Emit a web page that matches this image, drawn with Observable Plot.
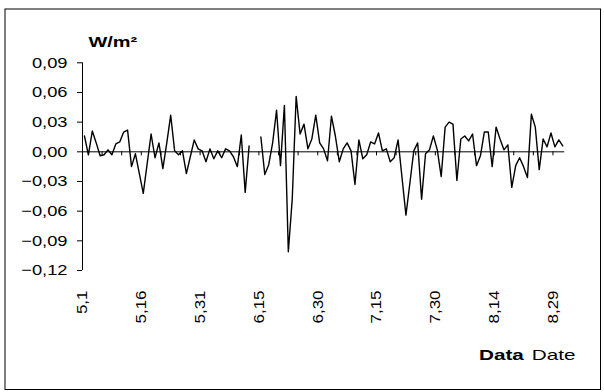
<!DOCTYPE html>
<html><head><meta charset="utf-8">
<script src="https://cdn.jsdelivr.net/npm/d3@7"></script>
<script src="https://cdn.jsdelivr.net/npm/@observablehq/plot@0.6"></script>
<style>
body{margin:0;background:#fff;}
#chart svg{display:block;}
</style></head><body><div id="chart"></div>
<script>
// Daily values, 1 May – 31 Aug (null = missing day)
const values = [
  0.016,-0.003,0.021,0.009,-0.004,-0.003,0.002,-0.003,0.008,0.010,
  0.020,0.022,-0.015,-0.002,-0.022,-0.042,-0.012,0.018,-0.006,0.009,
  -0.017,0.009,0.037,0.001,-0.003,0.001,-0.022,-0.005,0.012,0.003,
  0.001,-0.010,0.003,-0.007,0.001,-0.006,0.003,0.001,-0.005,-0.015,
  0.017,-0.041,0.006,null,null,0.015,-0.023,-0.013,0.009,0.042,
  -0.014,0.047,-0.101,-0.048,0.056,0.018,0.028,0.003,0.013,0.037,
  0.009,0.003,-0.009,0.036,0.016,-0.010,0.003,0.009,0.001,-0.033,
  0.012,-0.007,-0.003,0.010,0.008,0.019,0.001,0.003,-0.010,-0.006,
  0.012,-0.026,-0.064,-0.032,0.001,0.009,-0.048,-0.002,0.002,0.016,
  0.002,-0.025,0.025,0.030,0.028,-0.029,0.013,0.016,0.011,0.018,
  -0.014,-0.004,0.020,0.020,-0.015,0.025,0.013,0.002,0.007,-0.036,
  -0.014,-0.006,-0.015,-0.026,0.038,0.025,-0.018,0.013,0.005,0.019,
  0.005,0.012,0.006
];
const yTicks = [-0.12,-0.09,-0.06,-0.03,0,0.03,0.06,0.09];
const xTickLabels = ["5,1","5,16","5,31","6,15","6,30","7,15","7,30","8,14","8,29"];
const labelStep = 15;   // categories between labels
const minorStep = 5;    // categories between small ticks
const yUnit = "W/m\u00B2";
const xTitleBold = "Data";
const xTitleRegular = "Date";

const data = values.map((v, i) => ({i, v}));
const minor = d3.range(0, values.length, minorStep).map(x => ({x, y: 0}));
const labelPos = xTickLabels.map((_, k) => k * labelStep);
const fmt = d => (d < 0 ? "\u2212" : "") + Math.abs(d).toFixed(2).replace(".", ",");

const chart = Plot.plot({
  width: 604, height: 392,
  marginLeft: 82, marginRight: 39.8, marginTop: 62.3, marginBottom: 122,
  style: {fontFamily: "'Liberation Sans', Arial, sans-serif", fontSize: "15px", color: "#000", background: "#fff"},
  x: {domain: [0, values.length]},
  y: {domain: [-0.12, 0.09]},
  marks: [
    Plot.frame({stroke: "#000", insetLeft: -77.5, insetTop: -53.8, insetRight: -35.8, insetBottom: -119}),
    Plot.axisY(yTicks, {tickSize: 5, tickPadding: 10, tickFormat: fmt, label: null, fontSize: 15, stroke: "#000"}),
    Plot.axisX(labelPos, {tickSize: 0, tickPadding: 20, tickRotate: -90, tickFormat: d => xTickLabels[d / labelStep], label: null, fontSize: 15}),
    Plot.ruleX([0], {stroke: "#000"}),
    Plot.ruleY([0], {stroke: "#000"}),
    Plot.ruleX(minor, {x: "x", y1: "y", y2: "y", insetBottom: -4, stroke: "#000"}),
    Plot.line(data, {x: d => d.i + 0.5, y: "v", stroke: "#000", strokeWidth: 1.4}),
    Plot.text([yUnit], {frameAnchor: "top-left", dx: 6, dy: -20.3, textAnchor: "start", lineAnchor: "middle", fontWeight: "bold", fontSize: 15}),
    Plot.text([xTitleBold], {frameAnchor: "bottom-right", dx: -40.9, dy: 85, textAnchor: "end", lineAnchor: "middle", fontWeight: "bold", fontSize: 15}),
    Plot.text([xTitleRegular], {frameAnchor: "bottom-right", dx: 10.8, dy: 85, textAnchor: "end", lineAnchor: "middle", fontSize: 15})
  ]
});
document.getElementById("chart").appendChild(chart);
// widen glyphs horizontally like the reference's stretched Helvetica
d3.select(chart).selectAll("text").each(function() {
  const t = this.textContent;
  const L = this.getComputedTextLength();
  if (!(L > 0)) return;
  const rotated = /rotate/.test((this.getAttribute("transform") || "") + (this.parentNode.getAttribute("transform") || ""));
  const s = /[A-Za-z]/.test(t) ? (t === yUnit ? 1.33 : 1.38) : (rotated ? 1.13 : 1.22);
  this.setAttribute("textLength", (L * s).toFixed(2));
  this.setAttribute("lengthAdjust", "spacingAndGlyphs");
});
</script></body></html>
